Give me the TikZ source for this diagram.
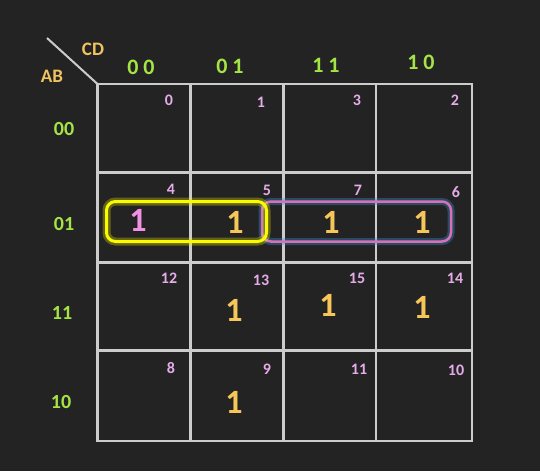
\documentclass[tikz,border=0pt]{standalone}
\usepackage{fontspec}
\setmainfont{Carlito}
\usetikzlibrary{positioning}
\definecolor{BoardBg}{RGB}{35,35,35}
\definecolor{GridGray}{RGB}{204,204,204}
\definecolor{LabelGreen}{RGB}{165,228,70}
\definecolor{VarOrange}{RGB}{240,195,95}
\definecolor{IndexPink}{RGB}{228,172,232}
\definecolor{OneOrange}{RGB}{246,198,88}
\definecolor{OnePink}{RGB}{240,145,228}
\definecolor{LoopYellow}{RGB}{250,250,0}
\definecolor{LoopPink}{RGB}{215,112,182}
\definecolor{GlowBlue}{RGB}{60,150,225}

\begin{document}
\begin{tikzpicture}[x=1pt,y=-1pt,
    gridline/.style={draw=GridGray, line width=2.5pt},
    varlabel/.style={text=VarOrange, font=\bfseries\fontsize{19}{19}\selectfont},
    colhead/.style={text=LabelGreen, font=\bfseries\fontsize{22}{22}\selectfont},
    rowhead/.style={text=LabelGreen, font=\bfseries\fontsize{20}{20}\selectfont},
    cellindex/.style={text=IndexPink, font=\bfseries\fontsize{16}{16}\selectfont},
    cellone/.style={text=OneOrange, font=\bfseries\fontsize{34}{34}\selectfont}]
    \fill[BoardBg] (0,0) rectangle (540,471);

    % grid
    \coordinate (corner) at (97.5,84);
    \draw[gridline] (corner) rectangle (472,441);
    \foreach \x in {190.5,283.5,376} \draw[gridline] (\x,84) -- (\x,441);
    \foreach \y in {172.5,262.5,350.5} \draw[gridline] (97.5,\y) -- (472,\y);
    \draw[draw=GridGray, line width=2pt] (47,38) -- (corner);

    % variable names
    \node[varlabel] (cd) at (93,49) {CD};
    \node[varlabel] (ab) at (52,76) {AB};

    % column and row headers
    \node[colhead] (c00) at (141,67) {0 0};
    \node[colhead] (c01) at (230,66) {0 1};
    \node[colhead] (c11) at (326,65) {1 1};
    \node[colhead] (c10) at (421,62) {1 0};
    \node[rowhead] (r00) at (64,129) {00};
    \node[rowhead] (r01) at (64,224) {01};
    \node[rowhead] (r11) at (62,313) {11};
    \node[rowhead] (r10) at (61,402) {10};

    % minterm indices
    \foreach \n/\x/\y in {0/169/100, 1/261/102, 3/357/100, 2/455/100,
        4/171/189, 5/267/190, 7/358/190, 6/456/192,
        12/169/278, 13/261/280, 15/357/278, 14/455/278,
        8/171/368, 9/267/369, 11/359/369, 10/456/370}
      \node[cellindex] (idx\n) at (\x,\y) {\n};

    % groups
    \draw[GlowBlue, opacity=0.35, line width=7pt, rounded corners=9pt] (262,201.5) rectangle (451,241.5);
    \draw[LoopPink, line width=2.5pt, rounded corners=9pt] (262,201.5) rectangle (451,241.5);
    \draw[LoopYellow, opacity=0.3, line width=8pt, rounded corners=9pt] (106.5,201.5) rectangle (266.5,241.5);
    \draw[LoopYellow, line width=3pt, rounded corners=9pt] (106.5,201.5) rectangle (266.5,241.5);

    % ones
    \node[cellone, text=OnePink] (one4) at (138,220) {1};
    \foreach \n/\x/\y in {5/235/222, 7/331/222, 6/422/222,
        13/234/310, 15/328/305, 14/422/307, 9/234/402}
      \node[cellone] (one\n) at (\x,\y) {1};
\end{tikzpicture}
\end{document}
